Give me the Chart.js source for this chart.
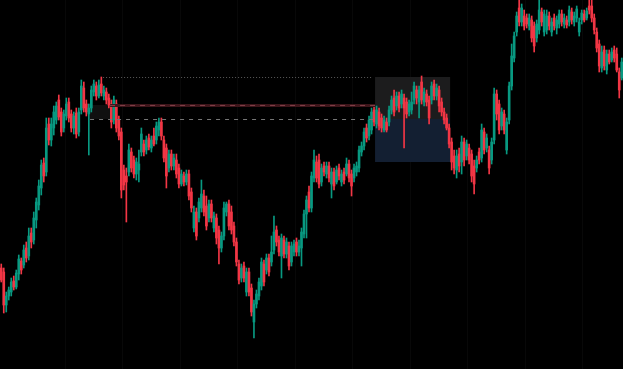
<!DOCTYPE html>
<html>
<head>
<meta charset="utf-8">
<script src="https://cdn.jsdelivr.net/npm/chart.js@4.4.1/dist/chart.umd.min.js"></script>
<style>
  html, body { margin: 0; padding: 0; background: #000; }
  #wrap { width: 623px; height: 369px; }
</style>
</head>
<body>
<div id="wrap"><canvas id="chart"></canvas></div>
<script>
// OHLC, one candle per ~2.5px
const opens = [
  101,97,64,73, 77,88,82,95, 108,104,121,113, 136,129,149,164,
  181,206,197,245, 229,241,249,269, 257,241,253,267, 255,241,256,237,
  259,281,265,255, 261,277,283,273, 285,273,277,271, 265,249,265,249,
  237,199,193,197, 217,209,195,199, 217,225,219,231, 221,233,229,239,
  247,229,221,201, 215,203,209,201, 185,193,187,195, 177,141,157,151,
  161,173,163,151, 165,141,151,139, 121,133,157,165, 157,143,127,105,
  91,103,77,97, 81,47,65,73, 83,105,99,111, 107,119,139,129,
  113,129,115,123, 107,117,127,117, 121,135,155,177, 161,191,207,209,
  187,203,195,203, 185,197,187,201, 187,197,195,205, 195,191,197,201,
  217,223,241,233, 239,259,245,257, 251,239,247,247, 259,271,263,273,
  265,271,267,257, 259,269,279,267, 287,267,275,269, 269,285,273,279,
  267,257,251,241, 227,213,199,215, 207,227,213,221, 215,203,201,217,
  211,237,221,219, 209,229,275,265, 243,255,219,249, 283,311,337,361,
  347,353,351,343, 349,343,331,339, 357,337,339,353, 337,351,341,345,
  355,345,349,347, 357,347,351,337, 349,355,351,363, 363,351,337,325,
  301,319,299,315, 309,319,315,297, 291
];
const highs = [
  105,101,77,82, 91,93,99,114, 111,124,127,141, 141,157,171,189,
  209,211,251,251, 251,263,267,274, 261,259,271,271, 259,257,261,261,
  289,287,269,265, 283,289,287,289, 292,283,281,275, 269,273,269,253,
  241,204,201,225, 221,213,211,219, 241,229,233,235, 233,241,247,251,
  251,233,225,219, 219,215,215,205, 199,197,199,199, 181,163,161,171,
  189,179,173,169, 169,157,155,143, 137,167,167,169, 163,147,131,109,
  105,107,101,101, 85,69,79,91, 111,109,115,115, 133,153,143,133,
  135,133,131,127, 127,129,131,129, 141,159,173,183, 197,219,213,215,
  205,207,207,207, 201,201,203,205, 199,201,211,209, 199,205,207,223,
  227,241,245,253, 261,263,263,261, 255,253,251,263, 273,279,277,277,
  279,275,271,269, 277,287,283,283, 293,281,279,273, 287,289,285,283,
  271,261,255,245, 231,219,219,221, 233,231,229,225, 219,209,213,221,
  245,241,235,223, 231,281,279,269, 261,259,251,287, 325,337,357,373,
  365,359,355,355, 353,347,349,373, 361,359,359,357, 351,355,353,359,
  359,355,353,363, 361,357,363,351, 359,359,361,373, 369,355,341,329,
  323,323,319,319, 321,323,321,301, 311
];
const lows = [
  87,56,57,69, 73,79,80,89, 95,101,107,109, 121,125,141,159,
  174,187,193,224, 223,234,245,249, 233,237,249,247, 237,235,231,233,
  255,257,253,214, 257,273,269,271, 273,269,265,261, 241,245,237,229,
  171,179,147,193, 197,191,189,187, 213,213,215,219, 217,223,225,233,
  229,207,181,197, 199,199,191,181, 183,183,184,169, 157,137,129,147,
  157,153,139,147, 147,137,125,105, 117,129,153,139, 135,123,103,85,
  87,87,73,73, 53,31,61,69, 79,83,95,93, 103,115,123,113,
  91,111,111,99, 103,113,113,113, 103,131,131,157, 157,187,187,181,
  183,193,191,187, 171,179,185,189, 183,185,193,187, 173,187,193,197,
  213,219,227,229, 235,243,241,239, 237,237,237,243, 255,253,259,257,
  261,221,251,253, 255,265,265,251, 265,263,263,245, 265,269,269,257,
  253,245,239,221, 199,195,191,197, 195,203,209,205, 187,175,197,205,
  207,215,217,195, 205,225,249,235, 239,235,215,245, 279,307,333,343,
  343,339,341,339, 327,317,327,335, 343,333,335,339, 333,339,335,341,
  343,341,341,343, 345,343,347,333, 345,347,349,355, 347,335,317,297,
  297,299,295,305, 307,307,297,271, 289
];
const closes = [
  89,64,73,79, 87,82,96,110, 99,119,111,133, 127,151,167,183,
  204,193,241,229, 245,257,263,252, 237,255,265,251, 241,253,235,257,
  283,261,257,261, 279,285,273,284, 276,279,269,264, 247,269,241,233,
  179,184,187,219, 201,195,207,205, 235,217,229,222, 229,225,243,247,
  233,211,193,215, 203,211,195,185, 195,187,195,173, 161,157,133,167,
  175,157,143,165, 151,153,131,121, 133,161,165,143, 139,127,107,89,
  101,91,97,77, 57,65,75,87, 107,87,111,97, 117,137,127,117,
  131,115,127,103, 123,125,117,123, 137,155,169,161, 193,209,191,185,
  201,197,203,191, 197,183,199,193, 195,189,205,191, 183,201,203,219,
  223,237,231,249, 257,247,259,243, 241,249,239,259, 269,257,273,261,
  275,261,255,265, 267,283,271,279, 269,277,267,251, 283,273,281,263,
  257,249,241,225, 207,201,213,203, 227,209,225,209, 193,185,209,209,
  239,219,231,201, 227,275,255,239, 257,239,247,283, 313,333,353,347,
  361,343,345,351, 331,323,345,359, 347,355,353,343, 347,343,349,355,
  347,351,344,359, 349,353,360,347, 356,349,358,359, 351,339,321,303,
  317,303,315,307, 317,311,299,279, 307
];
const labels = opens.map((_, i) => i + 1);

// drawn levels: price and the candle span they cover
const dottedLevel = 292, dottedFrom = 40.7, dottedTo = 148.6;
const redLevel = 264, redFrom = 43.5, redTo = 149.4;
const grayLevel = 250, grayFrom = 35.5, grayTo = 149.4;
// small shaded box left of the levels
const smallBoxFrom = 35.5, smallBoxTo = 43.5;
// zone box: upper grey part and lower blue part
const zoneFrom = 149.4, zoneTo = 179.4;
const zoneTop = 292, zoneMid = 250, zoneBottom = 207;

const upColor = "#089981";
const downColor = "#f23645";
const candleColors = opens.map((o, i) => (closes[i] >= o ? upColor : downColor));

const overlays = {
  id: "overlays",
  beforeDatasetsDraw(chart) {
    const { ctx, scales: { x, y } } = chart;
    ctx.save();
    const zx1 = x.getPixelForValue(zoneFrom);
    const zx2 = x.getPixelForValue(zoneTo);
    const zTop = y.getPixelForValue(zoneTop);
    const zMid = y.getPixelForValue(zoneMid);
    const zBot = y.getPixelForValue(zoneBottom);
    ctx.fillStyle = "#1c1c1d";
    ctx.fillRect(zx1, zTop, zx2 - zx1, zMid - zTop);
    ctx.fillStyle = "#131f32";
    ctx.fillRect(zx1, zMid, zx2 - zx1, zBot - zMid);

    const sx1 = x.getPixelForValue(smallBoxFrom);
    const sx2 = x.getPixelForValue(smallBoxTo);
    const sTop = y.getPixelForValue(redLevel);
    const sBot = y.getPixelForValue(grayLevel);
    ctx.fillStyle = "#101010";
    ctx.fillRect(sx1, sTop, sx2 - sx1, sBot - sTop);
    ctx.restore();
  },
  afterDatasetsDraw(chart) {
    const { ctx, scales: { x, y } } = chart;
    ctx.save();
    function hline(level, from, to, color, width, dash) {
      const py = Math.round(y.getPixelForValue(level)) + 0.5;
      ctx.beginPath();
      ctx.setLineDash(dash);
      ctx.strokeStyle = color;
      ctx.lineWidth = width;
      ctx.moveTo(x.getPixelForValue(from), py);
      ctx.lineTo(x.getPixelForValue(to), py);
      ctx.stroke();
    }
    hline(dottedLevel, dottedFrom, dottedTo, "#5a5a5a", 1, [1, 2]);
    hline(redLevel, redFrom, redTo, "#3e151a", 3, []);
    hline(redLevel, redFrom, redTo, "#7e3f47", 1, [5, 5]);
    hline(grayLevel, grayFrom, grayTo, "#767676", 1, [4, 5]);
    ctx.restore();
  }
};

new Chart(document.getElementById("chart"), {
  type: "bar",
  data: {
    labels: labels,
    datasets: [
      {
        label: "wick",
        data: lows.map((l, i) => [l, highs[i]]),
        backgroundColor: candleColors,
        barThickness: 1,
        grouped: false,
        order: 2,
      },
      {
        label: "body",
        data: opens.map((o, i) => [o, closes[i]]),
        backgroundColor: candleColors,
        barThickness: 2,
        minBarLength: 1,
        grouped: false,
        order: 1,
      },
    ],
  },
  plugins: [overlays],
  options: {
    responsive: true,
    maintainAspectRatio: false,
    animation: false,
    layout: { padding: 0 },
    scales: {
      x: {
        display: true,
        ticks: { display: false },
        border: { display: false },
        grid: {
          drawTicks: false,
          color: (c) => (c.index >= 26 && c.index % 23 === 3 ? "#080808" : "rgba(0,0,0,0)"),
        },
      },
      y: {
        display: false,
        min: 0,
        max: 369,
      },
    },
    plugins: {
      legend: { display: false },
      tooltip: { enabled: false },
    },
  },
});
</script>
</body>
</html>
